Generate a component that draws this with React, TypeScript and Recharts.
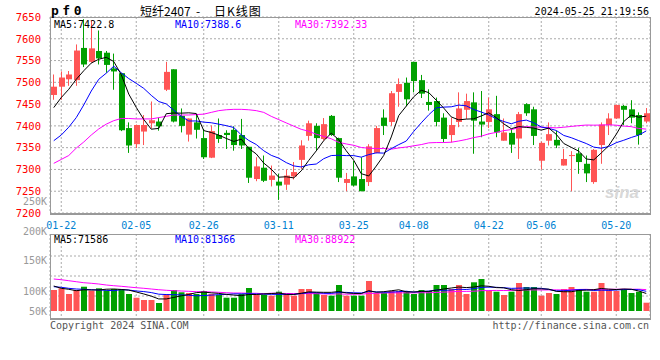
import { ComposedChart, Bar, Line, XAxis, YAxis, CartesianGrid, Cell } from 'recharts'

const MONO = '"DejaVu Sans Mono", monospace'
const CJK = '"Noto Sans CJK SC", sans-serif'
const RED = '#ff5555'
const GREEN = '#00a000'

// trading days shown on the chart
const DATES = [
  '01-19', '01-22', '01-23', '01-24', '01-25', '01-26', '01-29', '01-30', '01-31', '02-01',
  '02-02', '02-05', '02-06', '02-07', '02-08', '02-19', '02-20', '02-21', '02-22', '02-23',
  '02-26', '02-27', '02-28', '02-29', '03-01', '03-04', '03-05', '03-06', '03-07', '03-08',
  '03-11', '03-12', '03-13', '03-14', '03-15', '03-18', '03-19', '03-20', '03-21', '03-22',
  '03-25', '03-26', '03-27', '03-28', '03-29', '04-01', '04-02', '04-03', '04-08', '04-09',
  '04-10', '04-11', '04-12', '04-15', '04-16', '04-17', '04-18', '04-19', '04-22', '04-23',
  '04-24', '04-25', '04-26', '04-29', '04-30', '05-06', '05-07', '05-08', '05-09', '05-10',
  '05-13', '05-14', '05-15', '05-16', '05-17', '05-20', '05-21', '05-22', '05-23', '05-24',
]
const TICK_DATES = ['01-22', '02-05', '02-26', '03-11', '03-25', '04-08', '04-22', '05-06', '05-20']
const PRICE_TICKS = [7200, 7250, 7300, 7350, 7400, 7450, 7500, 7550, 7600, 7650]

const OPEN = [
  7471, 7490, 7507, 7505, 7579, 7547, 7572, 7568, 7532, 7521,
  7395, 7358, 7387, 7406, 7410, 7483, 7530, 7423, 7380, 7408,
  7372, 7327, 7379, 7384, 7391, 7379, 7352, 7278, 7304, 7276,
  7272, 7265, 7284, 7322, 7377, 7400, 7370, 7423, 7372, 7269,
  7284, 7278, 7271, 7338, 7419, 7409, 7478, 7499, 7547, 7505,
  7455, 7457, 7419, 7379, 7409, 7437, 7454, 7410, 7409, 7427,
  7366, 7384, 7371, 7450, 7438, 7320, 7366, 7368, 7309, 7332,
  7337, 7313, 7271, 7356, 7402, 7417, 7446, 7438, 7425, 7410,
]
const HIGH = [
  7518, 7525, 7526, 7587, 7645, 7642, 7619, 7572, 7566, 7521,
  7408, 7403, 7425, 7456, 7419, 7547, 7530, 7440, 7417, 7427,
  7393, 7401, 7417, 7390, 7399, 7416, 7352, 7328, 7332, 7309,
  7290, 7300, 7317, 7367, 7412, 7406, 7418, 7425, 7373, 7292,
  7320, 7328, 7358, 7400, 7438, 7480, 7509, 7511, 7547, 7517,
  7484, 7465, 7429, 7419, 7477, 7474, 7477, 7480, 7465, 7469,
  7417, 7393, 7432, 7452, 7444, 7364, 7408, 7389, 7347, 7342,
  7349, 7332, 7347, 7408, 7429, 7449, 7448, 7459, 7431, 7441,
]
const LOW = [
  7460, 7460, 7492, 7492, 7535, 7545, 7541, 7522, 7483, 7388,
  7338, 7349, 7356, 7394, 7389, 7480, 7408, 7385, 7364, 7371,
  7324, 7326, 7361, 7347, 7343, 7347, 7269, 7273, 7271, 7261,
  7230, 7253, 7277, 7301, 7366, 7343, 7366, 7377, 7271, 7250,
  7261, 7250, 7262, 7337, 7379, 7400, 7444, 7445, 7477, 7464,
  7435, 7399, 7362, 7362, 7397, 7416, 7336, 7374, 7395, 7374,
  7366, 7338, 7324, 7423, 7356, 7300, 7355, 7349, 7309, 7250,
  7290, 7271, 7267, 7313, 7379, 7416, 7402, 7406, 7357, 7406,
]
const CLOSE = [
  7490, 7511, 7518, 7573, 7541, 7578, 7555, 7540, 7525, 7390,
  7355, 7402, 7402, 7413, 7399, 7524, 7410, 7400, 7417, 7391,
  7328, 7388, 7370, 7379, 7356, 7355, 7281, 7307, 7274, 7286,
  7263, 7286, 7294, 7355, 7406, 7372, 7404, 7379, 7281, 7278,
  7263, 7250, 7353, 7395, 7400, 7475, 7496, 7461, 7503, 7474,
  7448, 7409, 7370, 7402, 7440, 7457, 7412, 7403, 7438, 7385,
  7385, 7357, 7427, 7429, 7377, 7361, 7381, 7355, 7324, 7333,
  7317, 7291, 7345, 7403, 7417, 7448, 7437, 7419, 7379, 7429,
]
const VOLUME = [
  86100, 93000, 69700, 86100, 99600, 83200, 93000, 84900, 90200, 90200,
  69700, 54500, 45100, 45100, 32800, 69700, 86100, 76700, 73800, 69700,
  82000, 69700, 65600, 54500, 54500, 69700, 94300, 65600, 65600, 62700,
  79100, 69700, 62700, 90200, 90200, 73800, 65600, 62700, 106600, 62700,
  62700, 62700, 123000, 73800, 73800, 82000, 82000, 82000, 69700, 86100,
  82000, 106600, 106600, 90200, 106600, 69700, 117700, 131200, 82000, 79100,
  65600, 79100, 114800, 98400, 98400, 62700, 73800, 69700, 90200, 98400,
  90200, 79100, 79100, 114800, 84900, 82000, 90200, 73800, 79100, 34000,
]

// averages at the left edge depend on days before the chart
const MA5_HEAD = [7442, 7465, 7484, 7507]
const MA10_HEAD = [7366, 7379, 7397, 7419, 7448, 7480, 7507, 7521, 7537]
const MA30_HEAD = [
  7314, 7323, 7332, 7349, 7363, 7379, 7393, 7404, 7412, 7417,
  7417, 7416, 7416, 7416, 7419, 7422, 7425, 7425, 7425, 7426,
  7427, 7431, 7435, 7437, 7438, 7438, 7437, 7435, 7431,
]
const VMA5_HEAD = [102500, 93000, 89000, 83200]
const VMA10_HEAD = [99600, 97200, 93000, 90200, 89000, 87300, 86100, 84900, 83200]
const VMA30_HEAD = [
  131200, 128300, 124200, 120100, 116000, 113600, 110700, 106600, 103700, 101300,
  98400, 95500, 93100, 90200, 87300, 84900, 83200, 82000, 80800, 79100,
  79100, 77900, 76700, 75000, 73800, 73800, 72600, 72600, 70900,
]

const VOL_LABELS = ['250K', '200K', '150K', '100K', '50K']

function movingAvg(values: number[], n: number, head: number[]) {
  return values.map((_, i) => {
    if (i < head.length) return head[i]
    const win = values.slice(i - n + 1, i + 1)
    return win.reduce((s, v) => s + v, 0) / n
  })
}

function Candle(props: any) {
  const { x, y, width, height, payload } = props
  const { open, close, high, low } = payload
  const top = Math.min(y, y + height)
  const h = Math.abs(height)
  const ratio = h / (high - low)
  const color = close >= open ? RED : GREEN
  const bodyTop = top + (high - Math.max(open, close)) * ratio
  const bodyH = Math.max(1, Math.abs(open - close) * ratio)
  const bx = Math.round(x)
  const wx = bx + 2.5
  return (
    <g>
      <line x1={wx} x2={wx} y1={top} y2={top + h} stroke={color} strokeWidth={1} />
      <rect x={bx} y={bodyTop} width={width} height={bodyH} fill={color} />
    </g>
  )
}

export default function App() {
  const ma5 = movingAvg(CLOSE, 5, MA5_HEAD)
  const ma10 = movingAvg(CLOSE, 10, MA10_HEAD)
  const ma30 = movingAvg(CLOSE, 30, MA30_HEAD)
  const vma5 = movingAvg(VOLUME, 5, VMA5_HEAD)
  const vma10 = movingAvg(VOLUME, 10, VMA10_HEAD)
  const vma30 = movingAvg(VOLUME, 30, VMA30_HEAD)

  const data = DATES.map((date, i) => ({
    date,
    open: OPEN[i],
    high: HIGH[i],
    low: LOW[i],
    close: CLOSE[i],
    vol: VOLUME[i],
    ma5: ma5[i],
    ma10: ma10[i],
    ma30: ma30[i],
    vma5: vma5[i],
    vma10: vma10[i],
    vma30: vma30[i],
  }))

  const volY = [201, 231, 260, 291, 311]

  return (
    <div
      style={{
        position: 'absolute',
        left: 0,
        top: 0,
        width: 660,
        height: 360,
        background: '#fff',
        overflow: 'hidden',
        fontFamily: MONO,
      }}
    >
      <div style={{ position: 'absolute', left: 0, top: 0 }}>
        <ComposedChart width={660} height={231} data={data} margin={{ top: 17, right: 10, bottom: 0, left: 0 }}>
          <CartesianGrid stroke="#aaa" strokeDasharray="2 2" />
          <XAxis
            dataKey="date"
            ticks={TICK_DATES}
            interval={0}
            axisLine={false}
            tickLine={false}
            height={18}
            tickMargin={3}
            tick={{ fill: '#0082d2', fontSize: 10, fontFamily: MONO }}
          />
          <YAxis
            type="number"
            domain={[7200, 7650]}
            ticks={PRICE_TICKS}
            interval={0}
            allowDataOverflow
            width={50}
            axisLine={false}
            tickLine={false}
            tickMargin={3}
            tick={{ fill: '#f00', fontSize: 10.5, fontFamily: MONO }}
          />
          <Bar dataKey={(d: any) => [d.low, d.high]} barSize={6} shape={Candle} isAnimationActive={false} />
          <Line dataKey="ma30" stroke="#ff00ff" strokeWidth={1} dot={false} isAnimationActive={false} />
          <Line dataKey="ma10" stroke="#0000ff" strokeWidth={1} dot={false} isAnimationActive={false} />
          <Line dataKey="ma5" stroke="#000" strokeWidth={1} dot={false} isAnimationActive={false} />
        </ComposedChart>
      </div>

      <div style={{ position: 'absolute', left: 0, top: 234 }}>
        <ComposedChart width={660} height={84} data={data} margin={{ top: 0, right: 10, bottom: 0, left: 50 }}>
          <CartesianGrid stroke="#aaa" strokeDasharray="2 2" horizontalPoints={[22, 42, 62]} />
          <XAxis dataKey="date" ticks={TICK_DATES} interval={0} hide />
          <YAxis type="number" domain={[-28700, 315700]} allowDataOverflow hide />
          <Bar dataKey="vol" barSize={6} isAnimationActive={false}>
            {data.map((d, i) => (
              <Cell key={i} fill={d.close >= d.open ? RED : GREEN} />
            ))}
          </Bar>
          <Line dataKey="vma30" stroke="#ff00ff" strokeWidth={1} dot={false} isAnimationActive={false} />
          <Line dataKey="vma10" stroke="#0000ff" strokeWidth={1} dot={false} isAnimationActive={false} />
          <Line dataKey="vma5" stroke="#000" strokeWidth={1} dot={false} isAnimationActive={false} />
        </ComposedChart>
      </div>

      {/* panel frames */}
      <div style={{ position: 'absolute', left: 50, top: 17, width: 599, height: 195, border: '1px solid #999', borderBottomWidth: 2, pointerEvents: 'none' }} />
      <div style={{ position: 'absolute', left: 50, top: 234, width: 599, height: 83, border: '1px solid #999', borderBottomWidth: 2, pointerEvents: 'none' }} />

      <svg width={660} height={360} style={{ position: 'absolute', left: 0, top: 0, pointerEvents: 'none' }}>
        <text x={51} y={10} dominantBaseline="central" fontFamily={MONO} fontWeight="bold" fontSize={13} letterSpacing={3.5} fill="#000">
          pf0
        </text>
        <text x={140} y={10} dominantBaseline="central" fontFamily={CJK} fontSize={12} fill="#000">
          短纤2407
        </text>
        <text x={196} y={10} dominantBaseline="central" fontFamily={CJK} fontSize={12} fill="#000">
          -
        </text>
        <text x={214} y={10} dominantBaseline="central" fontFamily={CJK} fontSize={12} letterSpacing={1} fill="#000">
          日K线图
        </text>
        <text x={649} y={11} dominantBaseline="central" textAnchor="end" fontFamily={MONO} fontSize={10} fill="#000">
          2024-05-25 21:19:56
        </text>

        <text x={54} y={24.5} dominantBaseline="central" fontFamily={MONO} fontSize={10} fill="#000">MA5:7422.8</text>
        <text x={175} y={24.5} dominantBaseline="central" fontFamily={MONO} fontSize={10} fill="#0000ff">MA10:7388.6</text>
        <text x={295} y={24.5} dominantBaseline="central" fontFamily={MONO} fontSize={10} fill="#ff00ff">MA30:7392.33</text>

        <text x={54} y={239} dominantBaseline="central" fontFamily={MONO} fontSize={10} fill="#000">MA5:71586</text>
        <text x={175} y={239} dominantBaseline="central" fontFamily={MONO} fontSize={10} fill="#0000ff">MA10:81366</text>
        <text x={295} y={239} dominantBaseline="central" fontFamily={MONO} fontSize={10} fill="#ff00ff">MA30:88922</text>

        {VOL_LABELS.map((t, i) => (
          <text key={t} x={47} y={volY[i]} dominantBaseline="central" textAnchor="end" fontFamily={MONO} fontSize={10} fill="#999">
            {t}
          </text>
        ))}

        <text x={622} y={192} dominantBaseline="central" textAnchor="middle" fontFamily="Arial, sans-serif" fontStyle="italic" fontWeight="bold" fontSize={17} fill="#d8d8d8">
          sina
        </text>

        <text x={50} y={325} dominantBaseline="central" fontFamily={MONO} fontSize={10} fill="#555">
          Copyright 2024 SINA.COM
        </text>
        <text x={649} y={325} dominantBaseline="central" textAnchor="end" fontFamily={MONO} fontSize={10} fill="#555">
          http://finance.sina.com.cn
        </text>
      </svg>
    </div>
  )
}
